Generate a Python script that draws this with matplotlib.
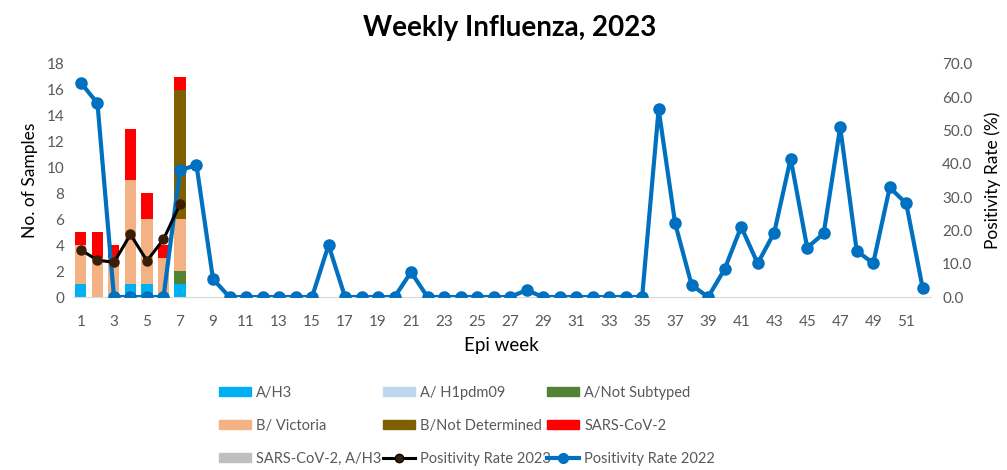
import numpy as np
import matplotlib.pyplot as plt
from matplotlib.patches import Patch
from matplotlib.lines import Line2D

plt.rcParams['font.family'] = ['Lato', 'DejaVu Sans']

# semanas con muestras (barras apiladas)
semanas_barras = [1, 2, 3, 4, 5, 6, 7]
a_h3 = [1, 0, 0, 1, 1, 0, 1]
a_h1pdm09 = [0, 0, 0, 0, 0, 0, 0]
a_no_subtipo = [0, 0, 0, 0, 0, 0, 1]
b_victoria = [3, 3, 3, 8, 5, 3, 4]
b_no_det = [0, 0, 0, 0, 0, 0, 10]
sars_cov2 = [1, 2, 1, 4, 2, 1, 1]
sars_h3 = [0, 0, 0, 0, 0, 0, 0]

# tasa de positividad 2023
semanas_2023 = [1, 2, 3, 4, 5, 6, 7]
tasa_2023 = [14.1, 11.1, 10.4, 18.8, 10.9, 17.3, 27.9]

# tasa de positividad 2022
semanas_2022 = list(range(1, 53))
tasa_2022 = [64.3, 58.2, 0, 0, 0, 0, 38.1, 39.6, 5.4, 0,
             0, 0, 0, 0, 0, 15.6, 0, 0, 0, 0,
             7.5, 0, 0, 0, 0, 0, 0, 2.1, 0, 0,
             0, 0, 0, 0, 0, 56.4, 22.1, 3.6, 0, 8.4,
             21.1, 10.1, 19.3, 41.6, 14.8, 19.1, 51.0, 13.9, 10.1, 32.9,
             28.1, 2.6]

series = [
    ("A/H3", a_h3, "#00B0F0"),
    ("A/ H1pdm09", a_h1pdm09, "#BDD7EE"),
    ("A/Not Subtyped", a_no_subtipo, "#548235"),
    ("B/ Victoria", b_victoria, "#F4B183"),
    ("B/Not Determined", b_no_det, "#7F6000"),
    ("SARS-CoV-2", sars_cov2, "#FF0000"),
    ("SARS-CoV-2, A/H3", sars_h3, "#BFBFBF"),
]

gris = "#595959"

fig = plt.figure(figsize=(10.07, 4.7), dpi=100)
ax = fig.add_axes([0.0722, 0.368, 0.8523, 0.496])

base = np.zeros(len(semanas_barras))
for nombre, valores, color in series:
    v = np.array(valores, dtype=float)
    ax.bar(semanas_barras, v, bottom=base, width=0.67, color=color, zorder=2)
    base += v

ax.set_xlim(0.5, 52.5)
ax.set_ylim(0, 18)
ax.set_yticks(np.arange(0, 19, 2))
ax.set_xticks(np.arange(1, 53, 2))
for s in ["top", "right", "left"]:
    ax.spines[s].set_visible(False)
ax.spines["bottom"].set_color("#D9D9D9")
ax.tick_params(axis="x", length=0, labelsize=11, labelcolor=gris, pad=13)
ax.tick_params(axis="y", length=0, labelsize=11, labelcolor=gris, pad=6)
ax.set_ylabel("No. of Samples", fontsize=12.5, color="black", labelpad=6)
ax.set_xlabel("Epi week", fontsize=13.5, color="black", labelpad=6)

ax2 = ax.twinx()
ax2.plot(semanas_2022, tasa_2022, color="#0070C0", lw=3, marker="o", ms=8,
         zorder=3)
ax2.plot(semanas_2023, tasa_2023, color="black", lw=2.2, marker="o", ms=6.5,
         markerfacecolor="#3B1E08", markeredgecolor="#3B1E08", zorder=4)
ax2.set_ylim(0, 70)
ax2.set_yticks(np.arange(0, 71, 10))
ax2.set_yticklabels(["%.1f" % t for t in np.arange(0, 71, 10)])
for s in ["top", "right", "left", "bottom"]:
    ax2.spines[s].set_visible(False)
ax2.tick_params(axis="y", length=0, labelsize=11, labelcolor=gris, pad=8)
ax2.set_ylabel("Positivity Rate (%)", fontsize=12.5, color="black", labelpad=9)

fig.text(0.506, 0.94, "Weekly Influenza, 2023", ha="center", va="center",
         fontsize=20, fontweight="bold")

# leyenda: tres columnas de ancho fijo
h = [Patch(color=c, label=n) for n, _, c in series]
h.append(Line2D([], [], color="black", lw=2.2, marker="o", ms=6,
                markerfacecolor="#3B1E08", label="Positivity Rate 2023"))
h.append(Line2D([], [], color="#0070C0", lw=3, marker="o", ms=7,
                label="Positivity Rate 2022"))
columnas = [[0, 3, 6], [1, 4, 7], [2, 5, 8]]
x_col = [219, 383, 547]
for idx, xc in zip(columnas, x_col):
    leg = fig.legend(handles=[h[i] for i in idx], loc="upper left",
                     bbox_to_anchor=(xc / 1007, 1 - 386 / 470),
                     frameon=False, fontsize=10.5, handlelength=2.2,
                     handleheight=0.55, labelspacing=1.3, handletextpad=0.35,
                     borderpad=0, borderaxespad=0)
    for t in leg.get_texts():
        t.set_color(gris)

fig.savefig("out.png", dpi=100)
